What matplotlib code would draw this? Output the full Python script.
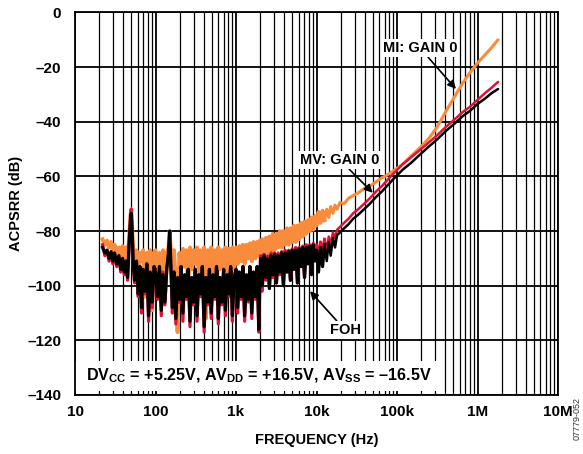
import matplotlib
matplotlib.use('Agg')
import matplotlib.pyplot as plt
from matplotlib.patches import Rectangle

# frequency points (Hz), one row per stretch of the trace
freq = [22, 23.5, 25, 26.5, 28, 29.5, 31, 33, 35, 37, 39, 41, 43, 45, 47, 49, 50, 51, 53, 55,
        58, 61, 64, 67, 70, 74, 78, 82, 86, 91, 96,
        100, 106, 112, 118, 124, 131, 138, 145, 150, 155, 162, 170, 179, 188, 198, 208, 219, 230,
        242, 255, 268, 282, 297, 312, 328, 345, 363, 382, 402, 423, 445, 468, 492, 518, 545, 573,
        603, 634, 667, 702, 738, 776, 816, 858, 902, 949,
        1000, 1050, 1100, 1160, 1220, 1280, 1350, 1420, 1490, 1570, 1650, 1740, 1830, 1920, 1970,
        2020, 2120, 2230, 2350, 2470, 2600, 2730, 2870, 3020, 3180, 3340, 3510, 3690, 3880, 4080,
        4290, 4510, 4740, 4990, 5250, 5520, 5800, 6100, 6420, 6750, 7100, 7460, 7850, 8250, 8680,
        9120, 9590,
        10000, 10600, 11200, 11900, 12600, 13400, 14200, 15000, 16000, 17000, 18000, 19600, 22000,
        25000, 28500, 33000, 39000, 46000, 55000, 65000, 75000, 90000, 118000, 150000, 193000,
        250000, 314000, 400000, 526000, 650000, 807000, 1000000, 1240000, 1500000, 1800000]

mi_gain0 = [-83, -85, -83.5, -86, -84, -87, -85, -88, -86, -89, -85.5, -90, -86, -92, -82, -74, -72, -77, -88, -94,
            -87, -97, -88, -91, -87, -104, -88, -93, -87, -109, -88,
            -87, -93, -88, -100, -87, -95, -88, -86, -80, -88, -94, -87, -99, -117, -88, -94, -86.5, -93,
            -87, -101, -86, -94, -87, -92, -86, -96, -87, -93, -86, -112, -87, -93, -86, -95, -87, -92,
            -86, -94, -87, -93, -86, -95, -86.5, -92, -86, -94,
            -86, -92, -85.5, -91, -85, -92, -85, -90, -84.5, -91, -84, -90, -84, -89, -83.5,
            -90, -83, -89, -82.5, -88, -82, -88, -81, -87, -81, -86, -80, -86, -80, -85,
            -79, -85, -79, -84, -78, -84, -78, -83, -77, -82, -76.5, -81, -76, -80, -75,
            -79.5, -74.5,
            -78, -73, -77, -72.5, -76, -72, -75, -71, -73.5, -70.5, -72, -69.5, -70,
            -68, -67, -66, -64.5, -63.5, -62, -60.5, -59.5, -58, -55.5, -52.5, -49.5,
            -46, -42, -36.5, -30.5, -26, -22, -18.5, -15.5, -12.8, -10]

mv_gain0 = [-85, -89, -87, -91, -88, -92, -88.5, -93, -89, -95, -90, -96, -91, -98, -84, -74, -72, -78, -93, -99,
            -91, -104, -93, -110, -94, -103, -92, -113, -95, -108, -93,
            -94, -105, -93, -111, -95, -107, -94, -88, -80.5, -93, -110, -95, -114, -98, -106, -93, -113, -96,
            -105, -94, -115, -97, -107, -94, -113, -96, -104, -93, -117, -97, -107, -94, -112, -96, -105, -93,
            -114, -97, -107, -94, -111, -96, -104, -93, -113, -97,
            -94, -110, -95, -105, -93, -113, -96, -106, -93, -112, -95, -105, -93, -117, -101,
            -89, -102, -88.5, -98, -89, -101, -88, -97, -88, -99, -88, -96, -87.5, -100, -87,
            -95, -87, -98, -86.5, -94, -86, -99, -86, -93, -85.5, -97, -85, -92, -85, -95,
            -84.5, -90,
            -85, -90, -84, -88, -83, -87, -82, -85, -80.5, -82.5, -79.5, -78.5, -77,
            -75.5, -73.5, -72, -70, -68, -65.5, -63.5, -61.5, -59, -55.5, -53, -50.3,
            -47.5, -45, -42, -39, -36.5, -34.5, -32, -29.5, -27.5, -25.4]

foh = [-86, -88, -87, -90, -87.5, -91, -88, -92, -89, -94, -90, -95, -91, -97, -85, -76, -73.5, -79, -92, -98,
       -91, -103, -93, -108, -94, -102, -92, -111, -95, -106, -93,
       -95, -104, -93, -109, -96, -106, -94, -88, -80, -92, -108, -95, -112, -97, -105, -93, -110, -96,
       -104, -94, -113, -97, -106, -94, -111, -96, -103, -93, -115, -97, -106, -94, -110, -96, -104, -93,
       -112, -97, -106, -94, -109, -96, -103, -93, -111, -97,
       -94, -108, -95, -104, -93, -111, -96, -105, -93, -110, -95, -104, -93, -116, -100,
       -90, -100, -89, -97, -90, -101, -89, -96, -88.5, -99, -89, -95, -88, -100, -88,
       -95, -87.5, -98, -87, -94, -87, -99, -86.5, -93, -86, -97, -86, -92, -85.5, -96,
       -85, -91,
       -87, -95, -86, -93, -85, -91, -84, -89, -82.5, -86, -81.5, -80.5, -79,
       -77.5, -75.5, -74, -72, -70, -67.5, -65.5, -63.5, -61, -57.5, -55, -52,
       -49, -46.5, -43.5, -40.5, -38, -36, -33.5, -31.5, -29.5, -28]

xticks = [10, 100, 1e3, 1e4, 1e5, 1e6, 1e7]
xtick_labels = ['10', '100', '1k', '10k', '100k', '1M', '10M']
yticks = [-140, -120, -100, -80, -60, -40, -20, 0]

plt.rcParams['font.family'] = ['Liberation Sans', 'DejaVu Sans']
plt.rcParams['font.weight'] = 'bold'
plt.rcParams['axes.labelweight'] = 'bold'
plt.rcParams['mathtext.fontset'] = 'custom'
plt.rcParams['mathtext.rm'] = 'Liberation Sans:bold'
plt.rcParams['mathtext.default'] = 'rm'

fig = plt.figure(figsize=(5.83, 4.54), dpi=100)
ax = fig.add_axes([75 / 583, 1 - 395 / 454, 483 / 583, 382.5 / 454])

# noisy low-frequency stretch drawn heavier so the band fills in like the scope trace
n = 128
for ys, col, lw_noise, lw_smooth, z in [(mi_gain0, '#F98B3C', 2.8, 2.2, 2.0),
                                        (mv_gain0, '#DC1238', 2.3, 1.8, 2.1),
                                        (foh, 'black', 2.3, 1.8, 2.2)]:
    ax.plot(freq[:n + 1], ys[:n + 1], color=col, lw=lw_noise, zorder=z)
    ax.plot(freq[n:], ys[n:], color=col, lw=lw_smooth, zorder=z, solid_capstyle='round')

ax.set_xscale('log')
ax.set_xlim(10, 1e7)
ax.set_ylim(-140, 0)
ax.set_xticks(xticks)
ax.set_xticklabels(xtick_labels)
ax.set_yticks(yticks)
ax.set_yticklabels([str(v).replace('-', '\u2013') for v in yticks])
ax.tick_params(which='both', length=0, labelsize=11, pad=7)
ax.tick_params(axis='y', pad=10)

ax.set_axisbelow(True)
ax.grid(True, which='major', color='black', lw=1.3)
ax.grid(True, which='minor', axis='x', color='black', lw=0.9)
for s in ax.spines.values():
    s.set_linewidth(1.3)

ax.set_xlabel('FREQUENCY (Hz)', fontsize=10.5, fontweight='bold', labelpad=10)
ax.set_ylabel('ACPSRR (dB)', fontsize=10.5, fontweight='bold', labelpad=3)

# white panel behind the supply note (grid stubs below it act as ticks)
ax.add_patch(Rectangle((10, -138.5), 310000 - 10, 11, facecolor='white',
                       edgecolor='none', zorder=1.5))
ax.text(13.8, -133, 'DV$_{CC}$ = +5.25V, AV$_{DD}$ = +16.5V, AV$_{SS}$ = \u201316.5V',
        fontsize=11.6, ha='left', va='center', zorder=3)

box = dict(boxstyle='square,pad=0.15', fc='white', ec='none')
arrow = dict(arrowstyle='-|>', color='black', lw=1.2, mutation_scale=12, shrinkA=0, shrinkB=0)
ax.annotate('MI: GAIN 0', xy=(540000, -28), xytext=(193000, -13), fontsize=10.5,
            ha='center', va='center', bbox=box, arrowprops=arrow, zorder=4)
ax.annotate('MV: GAIN 0', xy=(50000, -66), xytext=(19600, -54), fontsize=10.5,
            ha='center', va='center', bbox=box, arrowprops=arrow, zorder=4)
ax.annotate('FOH', xy=(8300, -102), xytext=(22600, -116.2), fontsize=10.5,
            ha='center', va='center', bbox=box, arrowprops=arrow, zorder=4)

fig.text(577 / 583, 1 - 418 / 454, '07779-052', rotation=90, fontsize=6.5,
         fontweight='normal', color='#333333', ha='center', va='center')

fig.savefig('out.png', dpi=100)
